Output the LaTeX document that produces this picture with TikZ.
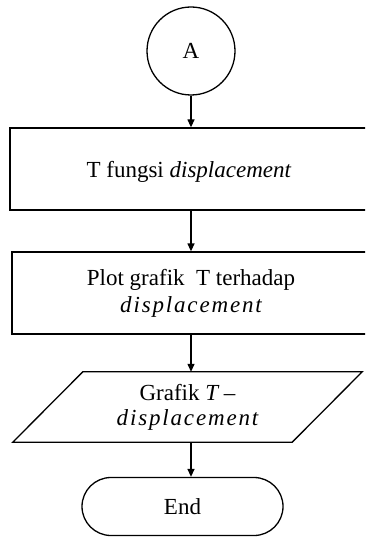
\documentclass[tikz,border=0pt]{standalone}
\usepackage{fontspec}
\setmainfont{Liberation Serif}
% letter-spaced italic used for the symbol-style words
\newfontfamily\spit[LetterSpace=8]{Liberation Serif}
\usetikzlibrary{arrows.meta,shapes.misc}
\begin{document}
\begin{tikzpicture}[x=1pt,y=-1pt,
  every node/.style={font=\fontsize{23}{27}\selectfont, inner sep=0pt},
  line/.style={line width=1.3pt},
  conn/.style={line width=1.3pt, -{Triangle[length=8pt,width=7pt]}},
  procbox/.style={line, draw, rectangle, minimum width=358pt, minimum height=82pt, align=center},
  connector/.style={line, draw, circle, minimum size=88pt, text depth=0pt},
  terminal/.style={line, draw, rounded rectangle, minimum width=201pt, minimum height=58pt, text depth=0pt}
]
\useasboundingbox (0,0) rectangle (365,537);
\clip (0,0) rectangle (365,537);

% off-page connector
\node[connector] (A) at (191,51) {A};

% processing steps
\node[procbox, text depth=0pt] (b1) at (189,169) {T fungsi \textit{displacement}};
\node[procbox] (b2) at (191,293) {Plot grafik\ \ T terhadap\\{\spit\itshape displacement}};

% output (parallelogram drawn around the text node)
\node[minimum width=279pt, minimum height=70pt, align=center, font=\fontsize{23}{25}\selectfont]
  (io) at (187.5,407) {Grafik {\spit\itshape T} --\\{\spit\itshape displacement}};
\draw[line] ([xshift=35pt]io.north west) -- ([xshift=35pt]io.north east)
  -- ([xshift=-35pt]io.south east) -- ([xshift=-35pt]io.south west) -- cycle;

% terminator
\node[terminal] (E) at (182.5,506.5) {End};

% flow
\draw[conn] (A.south) -- (A.south |- b1.north);
\draw[conn] (b2.north |- b1.south) -- (b2.north);
\draw[conn] (b2.south) -- (b2.south |- io.north);
\draw[conn] (b2.south |- io.south) -- (b2.south |- E.north);
\end{tikzpicture}
\end{document}
